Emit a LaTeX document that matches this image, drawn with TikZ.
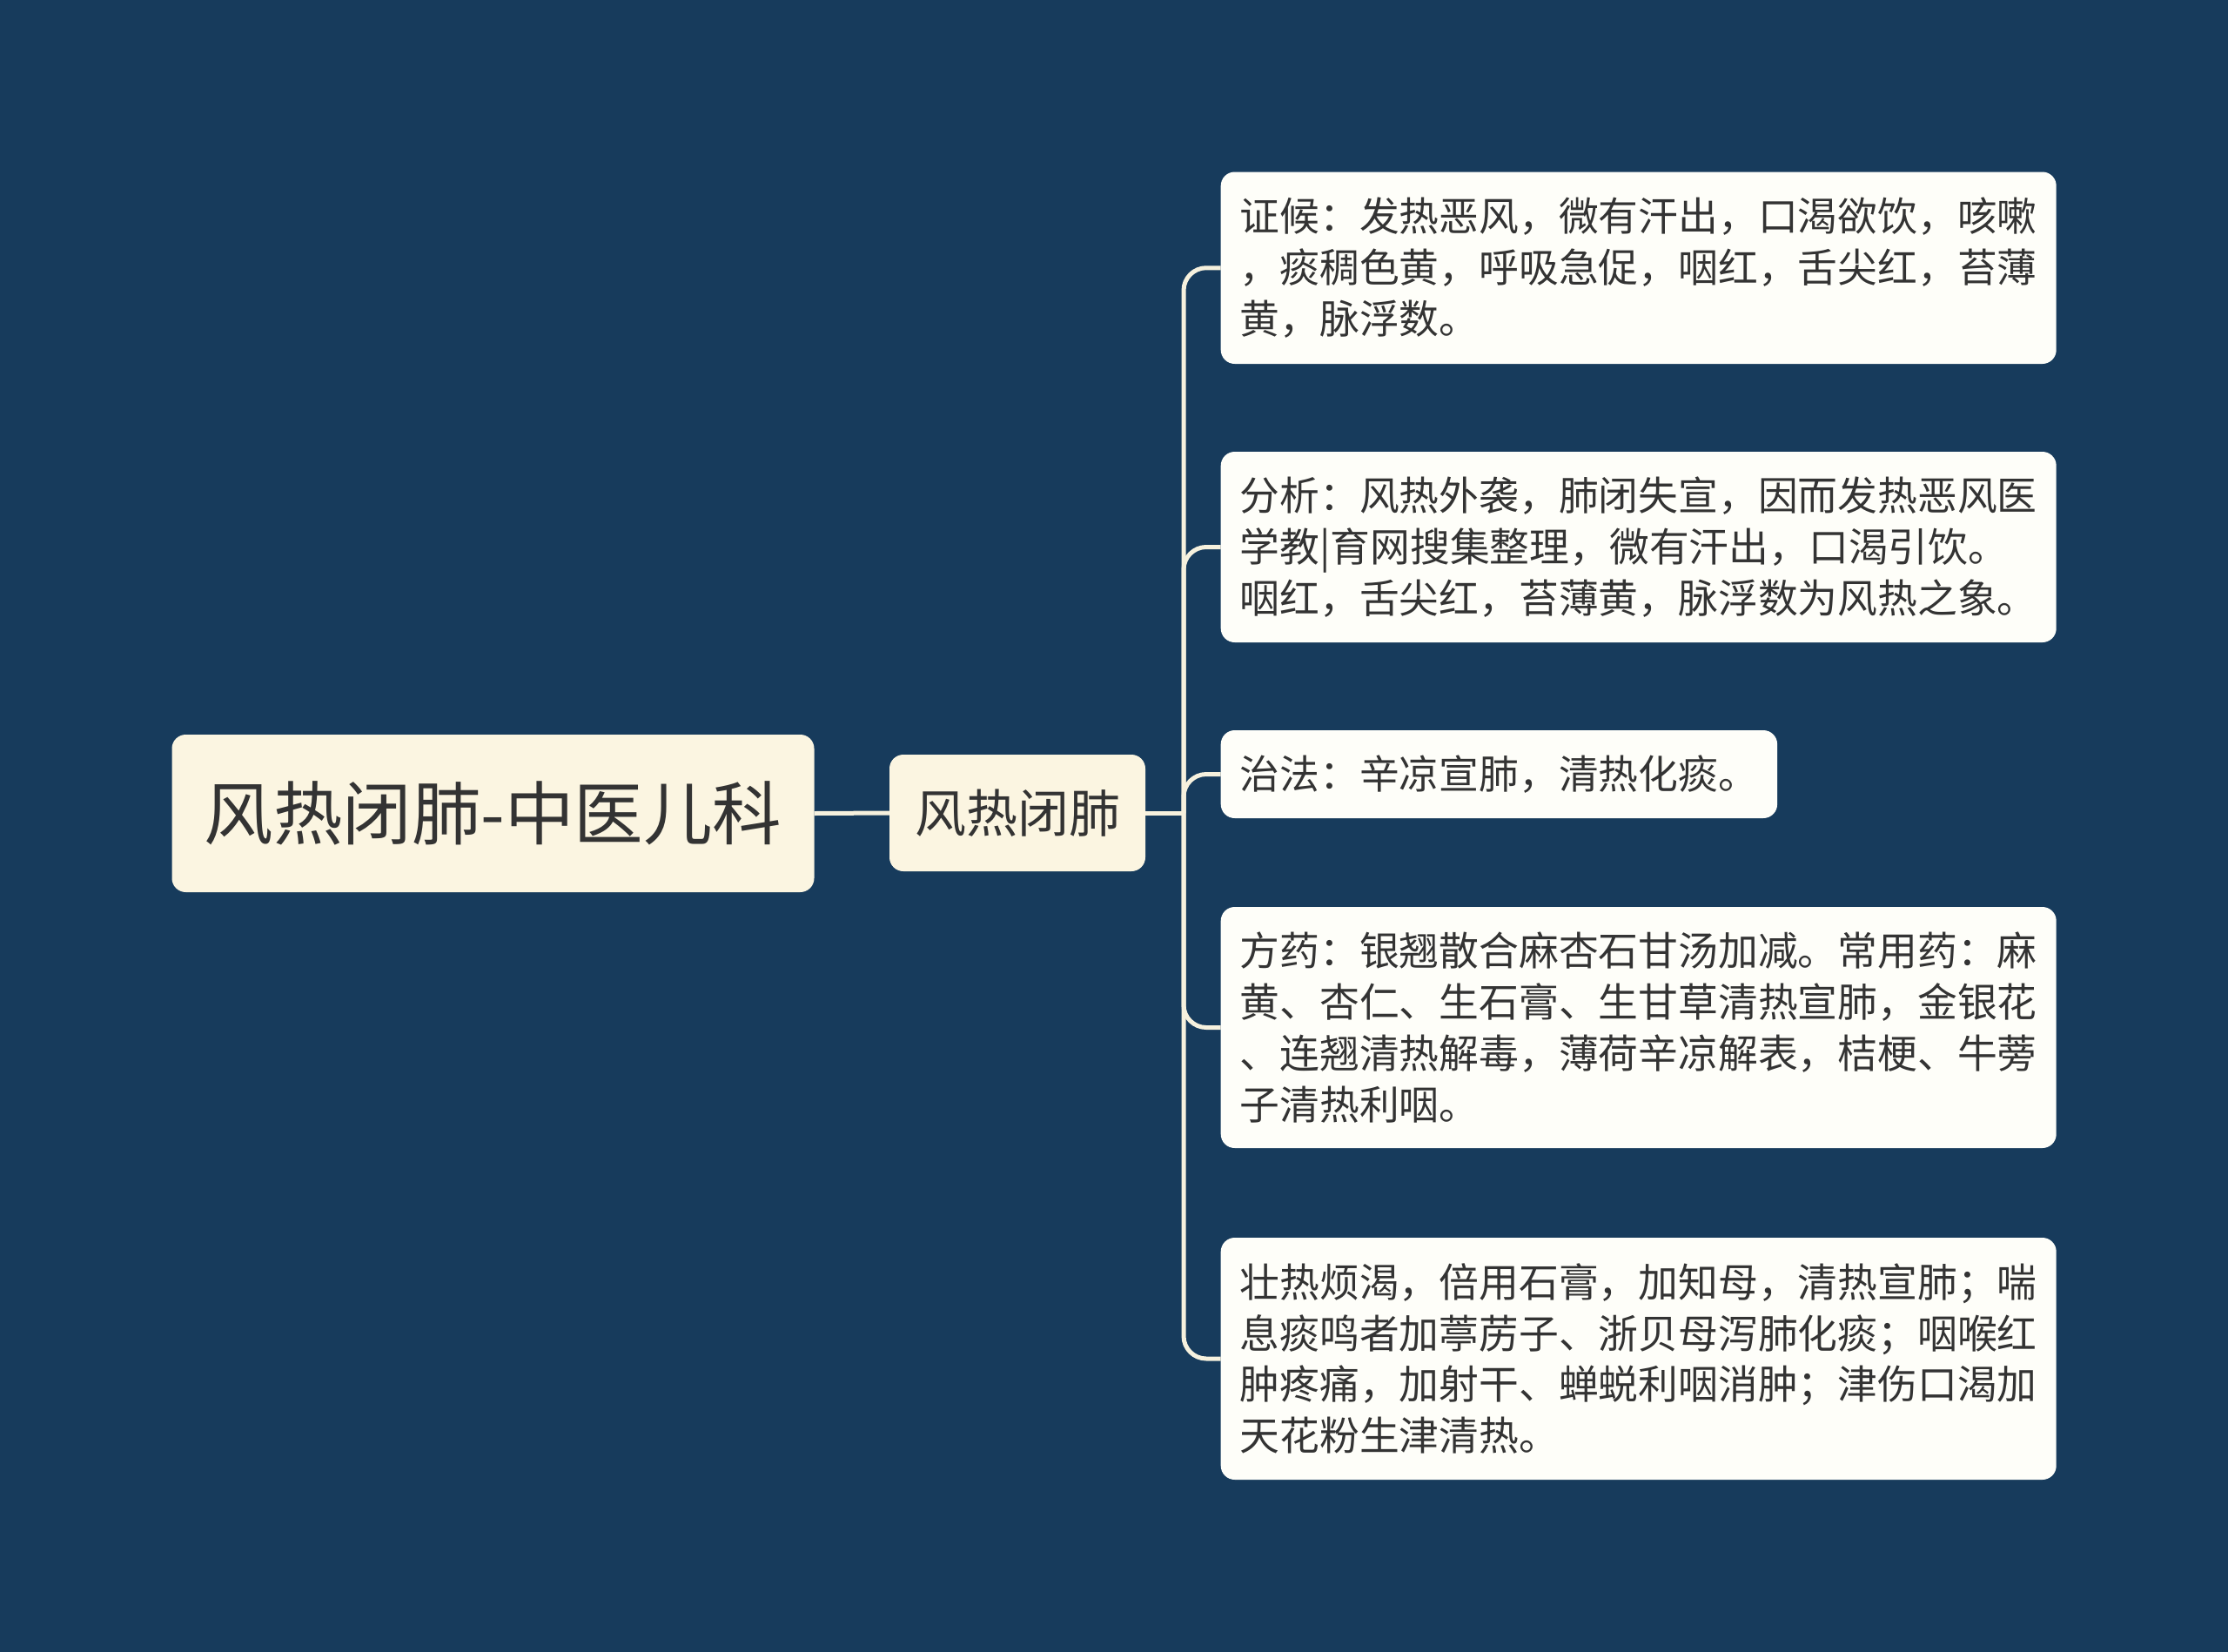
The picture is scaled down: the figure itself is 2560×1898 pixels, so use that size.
\documentclass[tikz,border=0pt]{standalone}
\usepackage{fontspec}
\setmainfont{Noto Sans CJK SC}
\definecolor{bgc}{HTML}{173B5C}
\definecolor{rootfill}{HTML}{FBF5E1}
\definecolor{leaffill}{HTML}{FEFEF9}
\definecolor{linec}{HTML}{F6F1DE}
\definecolor{txt}{HTML}{333333}
\tikzset{
  rootbox/.style={fill=rootfill, rounded corners=16pt, text=txt, minimum width=738pt, minimum height=181pt, inner sep=0pt,
    font=\fontsize{79.5pt}{90pt}\selectfont},
  subbox/.style={fill=rootfill, rounded corners=16pt, text=txt, minimum width=294pt, minimum height=134pt, inner sep=0pt,
    font=\fontsize{59pt}{70pt}\selectfont},
  leafbox/.style={fill=leaffill, rounded corners=16pt, text=txt, anchor=west, inner xsep=22pt, inner ysep=0pt, align=left,
    font=\fontsize{45.8pt}{58.8pt}\selectfont},
  conn/.style={draw=linec, line width=5pt},
  branch/.style={conn, rounded corners=26pt}
}
\begin{document}
\begin{tikzpicture}[x=1pt,y=1pt]
\fill[bgc] (0,0) rectangle (2560,-1898);
\useasboundingbox (0,0) rectangle (2560,-1898);

\node[rootbox] (root) at (566.5,-934.5) {风热闭肺-中医儿科};
\node[subbox] (sub) at (1169,-934) {风热闭肺};

\node[leafbox, text width=916pt, minimum height=220.5pt] (l1) at (1402.5,-307.75)
{\raisebox{-3pt}{}证候：发热恶风，微有汗出，口渴欲饮，咳嗽\\，痰稠色黄，呼吸急促，咽红，舌尖红，苔薄\\黄，脉浮数。};
\node[leafbox, text width=916pt, minimum height=219pt] (l2) at (1402.5,-628.5)
{分析：风热外袭，肺闭失宣，因而发热恶风医\\学教|育网搜集整理，微有汗出，口渴引饮。\\咽红，舌尖红，苔薄黄，脉浮数为风热之象。};
\node[leafbox, minimum height=101pt] (l3) at (1402.5,-889.5)
{治法：辛凉宣肺，清热化痰。};
\node[leafbox, text width=916pt, minimum height=277pt] (l4) at (1402.5,-1180.5)
{方药：银翘散合麻杏石甘汤加减。常用药：麻\\黄、杏仁、生石膏、生甘草清热宣肺，金银花\\、连翘清热解毒，薄荷辛凉解表，桔梗、牛蒡\\子清热利咽。};
\node[leafbox, text width=916pt, minimum height=278pt] (l5) at (1402.5,-1561)
{壮热烦渴，倍用石膏，加知母，清热宣肺；喘\\息痰鸣者加葶苈子、浙贝母泻肺化痰；咽喉红\\肿疼痛，加射干、蝉蜕利咽消肿；津伤口渴加\\天花粉生津清热。};

\coordinate (trunk) at (1360,-934);
\draw[conn] (root.east) -- (sub.west);
\draw[conn] (sub.east) -- (trunk);
\foreach \l in {l1,l2,l3,l4,l5}{
  \draw[branch] (trunk) |- (\l.west);
}
\end{tikzpicture}
\end{document}
